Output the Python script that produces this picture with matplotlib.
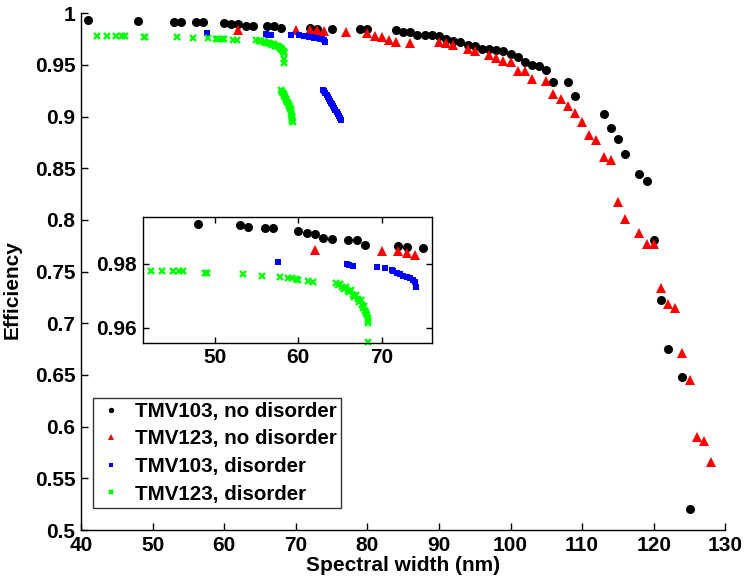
import matplotlib
matplotlib.use("Agg")
import matplotlib.pyplot as plt
import numpy as np

plt.rcParams['font.family'] = ['Liberation Sans', 'DejaVu Sans']
plt.rcParams['font.weight'] = 'bold'

# ---------------- data ----------------
x_black = [41, 48, 53, 54, 56, 57, 60, 61, 62, 63, 64, 66, 67, 68, 72, 73, 75, 79, 80,
           84, 85, 86, 87, 88, 89, 90, 91, 92, 93, 94, 95, 96, 97, 98, 99, 100, 101, 102,
           103, 104, 105, 106, 108, 109, 113, 114, 115, 116, 118, 119, 120, 121, 122, 124, 125]
y_black = [0.9935, 0.9922, 0.9919, 0.9913, 0.9912, 0.9912, 0.9902, 0.9895, 0.9892, 0.9881,
           0.9878, 0.9874, 0.9874, 0.9859, 0.9855, 0.9852, 0.9849, 0.9852, 0.9846,
           0.9838, 0.9819, 0.9816, 0.9793, 0.9793, 0.9787, 0.9780, 0.9748, 0.9732, 0.9719,
           0.9693, 0.9681, 0.9657, 0.9652, 0.9645, 0.9632, 0.9609, 0.9577, 0.9529,
           0.9500, 0.9490, 0.9454, 0.9335, 0.9332, 0.9200, 0.9028, 0.8890, 0.8781, 0.8636,
           0.8448, 0.8374, 0.7806, 0.7225, 0.6754, 0.6483, 0.5203]

x_red = [62, 70, 72, 73, 74, 77, 80, 81, 82, 83, 84, 86, 90, 91, 92, 94, 95, 97, 98, 99,
         100, 101, 102, 103, 105, 106, 107, 108, 109, 110, 111, 112, 113, 114, 115, 116,
         118, 119, 120, 121, 122, 123, 124, 125, 126, 127, 128]
y_red = [0.9842, 0.9840, 0.9838, 0.9834, 0.9826, 0.9822, 0.9814, 0.9782, 0.9766, 0.9742,
         0.9727, 0.9714, 0.9721, 0.9717, 0.9698, 0.9659, 0.9637, 0.9601, 0.9566, 0.9540,
         0.9530, 0.9446, 0.9443, 0.9366, 0.9344, 0.9218, 0.9169, 0.9102, 0.9034, 0.8950,
         0.8827, 0.8776, 0.8611, 0.8582, 0.8176, 0.8008, 0.7873, 0.7766, 0.7766, 0.7340,
         0.7185, 0.7147, 0.6712, 0.6456, 0.5902, 0.5863, 0.5660]

x_blue = [57.6, 65.8, 66.1, 66.5, 69.4, 70.4, 71.2, 71.4, 71.8, 72.2, 72.6, 73.0, 73.4,
          73.7, 74.0, 74.1,
          73.85, 74.0, 74.15, 74.3, 74.45, 74.6, 74.75, 74.9, 75.05, 75.2, 75.4, 75.55,
          75.7, 75.85, 76.0, 76.15, 76.25]
y_blue = [0.9805, 0.9797, 0.9794, 0.9792, 0.9790, 0.9787, 0.9781, 0.9776, 0.9771, 0.9767,
          0.9761, 0.9758, 0.9756, 0.9748, 0.9742, 0.9727,
          0.9262, 0.9245, 0.9228, 0.9205, 0.9188, 0.9170, 0.9150, 0.9132, 0.9118, 0.9100,
          0.9080, 0.9060, 0.9042, 0.9025, 0.9005, 0.8985, 0.8972]

x_green = [42.3, 43.6, 44.9, 45.7, 46.1, 48.8, 49.0, 53.4, 55.6, 57.8, 58.8, 59.2, 59.7,
           60.0, 61.2, 61.8,
           64.5, 64.8, 65.0, 65.2, 65.5, 65.7, 65.9, 66.1, 66.3, 66.5, 66.7, 66.9, 67.1,
           67.3, 67.5, 67.6, 67.8, 67.9, 68.0, 68.1, 68.2, 68.3, 68.35, 68.4,
           68.35, 68.3,
           68.0, 68.1, 68.2, 68.3, 68.4, 68.5, 68.6, 68.7, 68.8, 68.9, 69.0, 69.1, 69.2,
           69.3, 69.35, 69.4, 69.45, 69.5, 69.5, 69.45, 69.55]
y_green = [0.9778, 0.9776, 0.9776, 0.9776, 0.9776, 0.9770, 0.9770, 0.9768, 0.9761, 0.9757,
           0.9755, 0.9754, 0.9752, 0.9750, 0.9746, 0.9743,
           0.9738, 0.9732, 0.9736, 0.9728, 0.9722, 0.9726, 0.9715, 0.9710, 0.9716, 0.9702,
           0.9697, 0.9703, 0.9688, 0.9680, 0.9685, 0.9670, 0.9662, 0.9668, 0.9652, 0.9645,
           0.9638, 0.9630, 0.9622, 0.9616,
           0.9556, 0.9520,
           0.9255, 0.9240, 0.9228, 0.9215, 0.9200, 0.9188, 0.9172, 0.9160, 0.9145, 0.9130,
           0.9115, 0.9100, 0.9085, 0.9070, 0.9050, 0.9030, 0.9010, 0.8995, 0.8975, 0.8958,
           0.8945]

labels = ['TMV103, no disorder', 'TMV123, no disorder', 'TMV103, disorder', 'TMV123, disorder']

x_ticks = [40, 50, 60, 70, 80, 90, 100, 110, 120, 130]
y_ticks = [0.5, 0.55, 0.6, 0.65, 0.7, 0.75, 0.8, 0.85, 0.9, 0.95, 1.0]
y_ticklabels = ['0.5', '0.55', '0.6', '0.65', '0.7', '0.75', '0.8', '0.85', '0.9', '0.95', '1']
inset_x_ticks = [50, 60, 70]
inset_y_ticks = [0.96, 0.98]
inset_y_ticklabels = ['0.96', '0.98']

series = [
    (x_black, y_black, dict(marker='o', color='black', ms=6.5, mew=0)),
    (x_red, y_red, dict(marker='^', color='red', ms=7.0, mew=0)),
    (x_blue, y_blue, dict(marker='s', color='blue', ms=4.8, mew=0)),
    (x_green, y_green, dict(marker='x', color='#00ff00', ms=4.8, mew=1.7)),
]

W, H = 744, 580
fig = plt.figure(figsize=(W / 100, H / 100), dpi=100)

def box(l, t, r, b):
    return [l / W, 1 - b / H, (r - l) / W, (b - t) / H]

ax = fig.add_axes(box(81, 13.3, 725.3, 530))
handles = []
for xs, ys, st in series:
    h, = ax.plot(xs, ys, linestyle='none', **st)
    handles.append(h)

ax.set_xlim(40, 130)
ax.set_ylim(0.5, 1.0)
ax.set_xticks(x_ticks)
ax.set_yticks(y_ticks)
ax.set_yticklabels(y_ticklabels)
for s in ['top', 'right']:
    ax.spines[s].set_visible(False)
for s in ['left', 'bottom']:
    ax.spines[s].set_linewidth(1.0)
ax.tick_params(direction='in', length=5, width=1, labelsize=15, pad=4)
ax.set_xlabel('Spectral width (nm)', fontsize=15, fontweight='bold', labelpad=1)
ax.set_ylabel('Efficiency', fontsize=15, fontweight='bold')
ax.yaxis.set_label_coords(-0.092, 0.466)

leg = ax.legend(handles, labels, loc='lower left', bbox_to_anchor=(0.019, 0.043),
                borderaxespad=0, fontsize=14.8, markerscale=0.6, frameon=True,
                fancybox=False, edgecolor='black', handlelength=1.3,
                handletextpad=0.55, labelspacing=0.42, borderpad=0.2)
leg.get_frame().set_linewidth(1.0)
for t in leg.get_texts():
    t.set_fontweight('bold')

# inset
axi = fig.add_axes(box(142.7, 216.7, 432, 342.7))
xl, xr, yb, yt = 41.32, 76.04, 0.9553, 0.9946
for xs, ys, st in series:
    xa = np.asarray(xs)
    ya = np.asarray(ys)
    m = (xa >= xl) & (xa <= xr) & (ya >= yb) & (ya <= yt)
    axi.plot(xa[m], ya[m], linestyle='none', clip_on=False, **st)
axi.set_xlim(xl, xr)
axi.set_ylim(yb, yt)
axi.set_xticks(inset_x_ticks)
axi.set_yticks(inset_y_ticks)
axi.set_yticklabels(inset_y_ticklabels)
for s in axi.spines.values():
    s.set_linewidth(1.0)
axi.tick_params(direction='in', length=4, width=1, labelsize=15, pad=4,
                top=True, right=True)

fig.savefig('out.png', dpi=100)
